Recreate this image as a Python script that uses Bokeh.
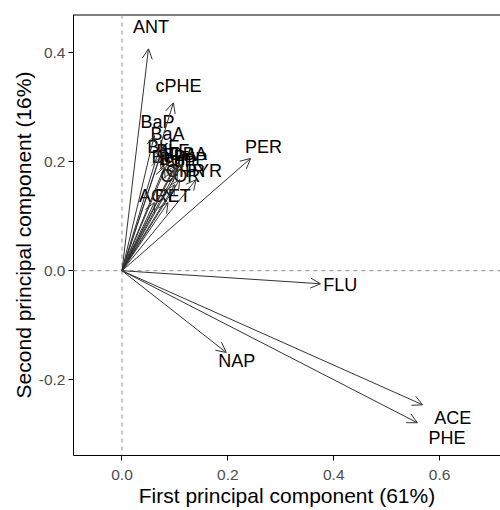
from bokeh.plotting import figure
from bokeh.models import (ColumnDataSource, Range1d, Span, Arrow, OpenHead,
                          FixedTicker, PrintfTickFormatter)
from bokeh.core.properties import value
from bokeh.embed import file_html
from bokeh.resources import INLINE

# Loadings (arrow tips)
names = ["ANT", "cPHE", "BaP", "BaA", "BkF", "BbF", "BeP", "FLA", "DBA",
         "IcdP", "BghiP", "CHR", "COR", "PYR", "ACY", "RET",
         "PER", "FLU", "NAP", "ACE", "PHE"]
pc1 = [0.050, 0.097, 0.061, 0.078, 0.071, 0.087, 0.080, 0.100, 0.114,
       0.097, 0.105, 0.109, 0.100, 0.140, 0.061, 0.087,
       0.243, 0.375, 0.197, 0.568, 0.558]
pc2 = [0.407, 0.308, 0.248, 0.228, 0.207, 0.199, 0.190, 0.193, 0.195,
       0.183, 0.187, 0.167, 0.158, 0.167, 0.125, 0.125,
       0.206, -0.024, -0.150, -0.246, -0.279]
label_scale = 1.1
x_ticks = [0.0, 0.2, 0.4, 0.6]
y_ticks = [-0.2, 0.0, 0.2, 0.4]

src = ColumnDataSource(dict(
    name=names, x0=[0.0] * len(names), y0=[0.0] * len(names),
    x=pc1, y=pc2,
    lx=[v * label_scale for v in pc1], ly=[v * label_scale for v in pc2]))

p = figure(width=500, height=510, output_backend="svg", toolbar_location=None,
           x_range=Range1d(-0.0916, 0.715), y_range=Range1d(-0.339, 0.470),
           min_border_left=73, min_border_right=0, min_border_top=14,
           min_border_bottom=55)
p.outline_line_color = None
p.xgrid.visible = False
p.ygrid.visible = False
p.background_fill_color = "white"

for ax in (p.xaxis[0], p.yaxis[0]):
    ax.axis_line_color = "black"
    ax.axis_line_width = 1
    ax.major_tick_line_color = "black"
    ax.major_tick_out = 5
    ax.major_tick_in = 0
    ax.minor_tick_line_color = None
    ax.major_label_text_font = "Liberation Sans"
    ax.major_label_text_font_size = "15.5px"
    ax.major_label_text_color = "#4d4d4d"
    ax.axis_label_text_font = "Liberation Sans"
    ax.axis_label_text_font_size = "21px"
    ax.axis_label_text_font_style = "normal"
    ax.axis_label_text_color = "black"
    ax.formatter = PrintfTickFormatter(format="%.1f")

p.xaxis.ticker = FixedTicker(ticks=x_ticks)
p.yaxis.ticker = FixedTicker(ticks=y_ticks)
p.xaxis.axis_label = "First principal component (61%)"
p.yaxis.axis_label = "Second principal component (16%)"
p.xaxis.major_label_standoff = 9
p.yaxis.major_label_standoff = 3
p.xaxis.axis_label_standoff = 1
p.yaxis.axis_label_standoff = 1

# top border line
p.add_layout(Span(location=0.470, dimension="width", line_color="black", line_width=2))

# dashed reference lines
p.add_layout(Span(location=0, dimension="width", line_color="#8c8c8c",
                  line_dash="4 4", line_width=1))
p.add_layout(Span(location=0, dimension="height", line_color="#8c8c8c",
                  line_dash="4 4", line_width=1))

p.add_layout(Arrow(source=src, x_start="x0", y_start="y0", x_end="x", y_end="y",
                   line_color="#333333", line_width=1,
                   end=OpenHead(size=10, line_color="#333333", line_width=1)))

p.text(x="lx", y="ly", text="name", source=src,
       text_font=value("Liberation Sans"), text_font_size="18px",
       text_color="black", text_align="center", text_baseline="middle")

open("out.html", "w").write(file_html(p, INLINE))
